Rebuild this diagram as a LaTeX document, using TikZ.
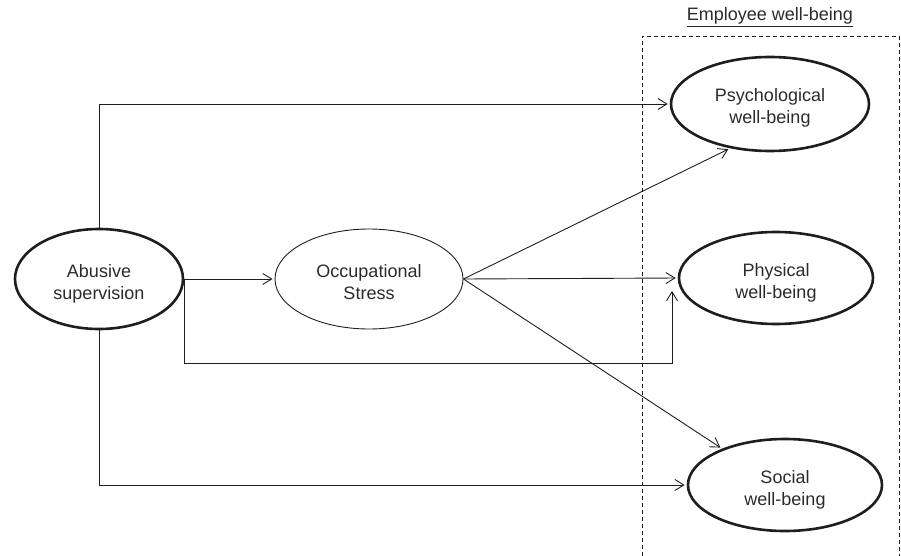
\documentclass[tikz,border=0pt]{standalone}
\usepackage{fontspec}
\setmainfont{Liberation Sans}
\usetikzlibrary{shapes.geometric,arrows.meta}
\definecolor{ink}{HTML}{1E1E1E}
\definecolor{txt}{HTML}{2B2B2B}
\begin{document}
\begin{tikzpicture}[x=1pt,y=-1pt,
  construct/.style={ellipse,draw=ink,inner sep=0pt,align=center,text=txt,
    font=\fontsize{18}{22}\selectfont,text height=40pt,text depth=0pt},
  latent/.style={construct,line width=2.6pt},
  mediator/.style={construct,line width=0.9pt},
  link/.style={draw=ink,line width=0.9pt,
    -{Straight Barb[length=9pt,width=11pt,line width=0.9pt]},shorten >=2pt},
  groupbox/.style={draw=ink,line width=0.8pt,dash pattern=on 4pt off 3pt}]
\useasboundingbox (0,0) rectangle (901,556);

% constructs
\node[latent,minimum width=168pt,minimum height=100pt] (abu) at (99,279) {Abusive\\supervision};
\node[mediator,minimum width=188pt,minimum height=100pt] (occ) at (369,279) {Occupational\\Stress};
\node[latent,minimum width=198pt,minimum height=94pt] (psy) at (770,104) {Psychological\\well-being};
\node[latent,minimum width=194pt,minimum height=92pt] (phy) at (776,278) {Physical\\well-being};
\node[latent,minimum width=194pt,minimum height=92pt] (soc) at (785,485) {Social\\well-being};

% employee well-being group
\node[text=txt,font=\fontsize{18}{22}\selectfont] (grp) at (770,17) {\underline{Employee well-being}};
\coordinate (gbl) at (642,556);
\coordinate (gtl) at (642,36);
\coordinate (gtr) at (899,36);
\coordinate (gbr) at (899,556);
\draw[groupbox] (gbl) -- (gtl) -- (gtr) -- (gbr);

% paths
\coordinate (phyin) at (672,289);
\draw[link] (abu.north) |- (psy.west);
\draw[link] (abu.east) -- (occ.west);
\draw[link] (abu.east) -- ++(0,84) -| (phyin);
\draw[link] (abu.south) |- (soc.west);
\draw[link] (occ.east) -- (psy.228);
\draw[link] (occ.east) -- (phy.west);
\draw[link] (occ.east) -- (soc.150);
\end{tikzpicture}
\end{document}
